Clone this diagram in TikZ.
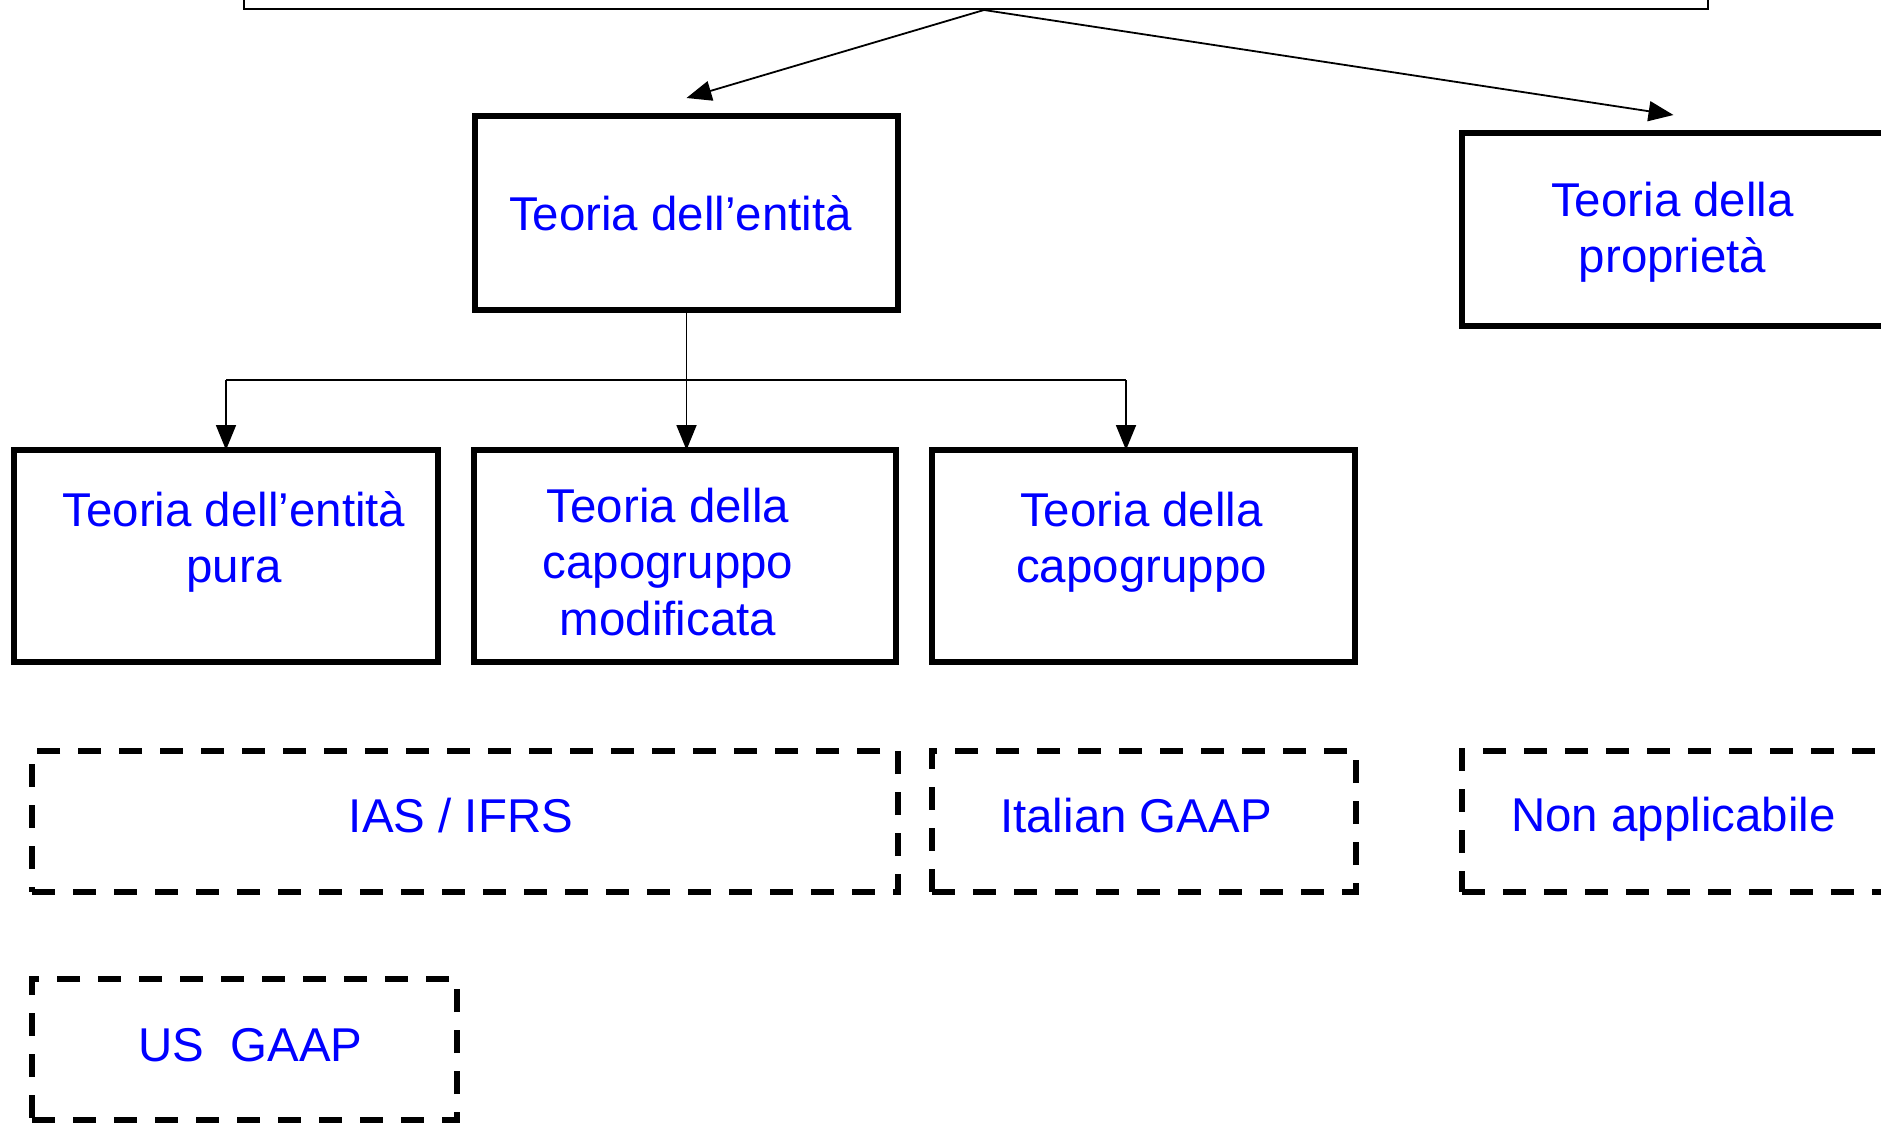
\documentclass[tikz,border=0pt]{standalone}
\usepackage{fontspec}
\setmainfont{Liberation Sans}
\usetikzlibrary{arrows.meta,calc}
\definecolor{txtblue}{RGB}{0,0,255}
\begin{document}
\begin{tikzpicture}[x=0.1mm,y=-0.1mm,
  solidbox/.style={draw, line width=0.55mm, inner sep=0pt, outer sep=0pt},
  dashbox/.style={draw, line width=0.55mm, dash pattern=on 2.3mm off 1.8mm, inner sep=0pt, outer sep=0pt},
  lbl/.style={text=txtblue, font=\fontsize{13.5pt}{16pt}\selectfont, align=center, inner sep=0pt},
  conn/.style={line width=0.18mm},
  arr/.style={conn, -{Triangle[length=2.5mm,width=2mm]}}]
\useasboundingbox (0,0) rectangle (1881,1122);
\clip (0,0) rectangle (1881,1122);
\fill[white] (0,0) rectangle (1881,1122);

% top box (mostly outside the page)
\node[draw, conn, minimum width=146.4mm, minimum height=20mm, anchor=south, inner sep=0pt] (top) at (976,10) {};
\coordinate (apex) at ($(top.south)+(8,0)$);

% solid boxes
\node[solidbox, minimum width=42.3mm, minimum height=19.4mm] (ent) at (686.5,213) {};
\node[solidbox, minimum width=42.3mm, minimum height=19.3mm] (prop) at (1673.5,229.5) {};
\node[solidbox, minimum width=42.4mm, minimum height=21.2mm] (b1) at (226,556) {};
\node[solidbox, minimum width=42.2mm, minimum height=21.2mm] (b2) at (685,556) {};
\node[solidbox, minimum width=42.3mm, minimum height=21.2mm] (b3) at (1143.5,556) {};

% dashed boxes
\node[dashbox, minimum width=86.6mm, minimum height=14.1mm] (d1) at (465,821.5) {};
\node[dashbox, minimum width=42.4mm, minimum height=14.1mm] (d2) at (1144,821.5) {};
\node[dashbox, minimum width=42.3mm, minimum height=14.1mm] (d3) at (1673.5,821.5) {};
\node[dashbox, minimum width=42.5mm, minimum height=14.1mm] (d4) at (244.5,1049.5) {};

% labels
\node[lbl] (t0) at ($(ent.center)+(-6,0)$) {Teoria dell’entità};
\node[lbl] (tp) at ($(prop.center)+(-1,3)$) {Teoria della\\proprietà};
\node[lbl] (t1) at ($(b1.center)+(8,-14)$) {Teoria dell’entità\\pura};
\node[lbl] (t2) at ($(b2.center)+(-17,6)$) {Teoria della\\capogruppo\\modificata};
\node[lbl] (t3) at ($(b3.center)+(-2,-14)$) {Teoria della\\capogruppo};
\node[lbl] (l1) at ($(d1.center)+(-4,-6)$) {IAS / IFRS};
\node[lbl] (l2) at ($(d2.center)+(-8,-6)$) {Italian GAAP};
\node[lbl] (l3) at ($(d3.center)+(0,-2)$) {Non applicabile};
\node[lbl] (l4) at ($(d4.center)+(6,-4)$) {US\ \ GAAP};

% connectors from top
\coordinate (entT) at ($(ent.north)+(0,-18)$);
\coordinate (propT) at ($(prop.north)+(0,-18)$);
\draw[arr] (apex) -- (entT);
\draw[arr] (apex) -- (propT);

% tree below entity
\coordinate (jm) at ($(ent.south)+(0,70)$);
\coordinate (jl) at (jm -| b1.north);
\coordinate (jr) at (1126,0 |- jm);
\draw[conn] (ent.south) -- (jm);
\draw[conn] (jl) -- (jr);
\draw[arr] (jl) -- (b1.north);
\draw[arr] (jm) -- (jm |- b2.north);
\draw[arr] (jr) -- (jr |- b3.north);
\end{tikzpicture}
\end{document}
